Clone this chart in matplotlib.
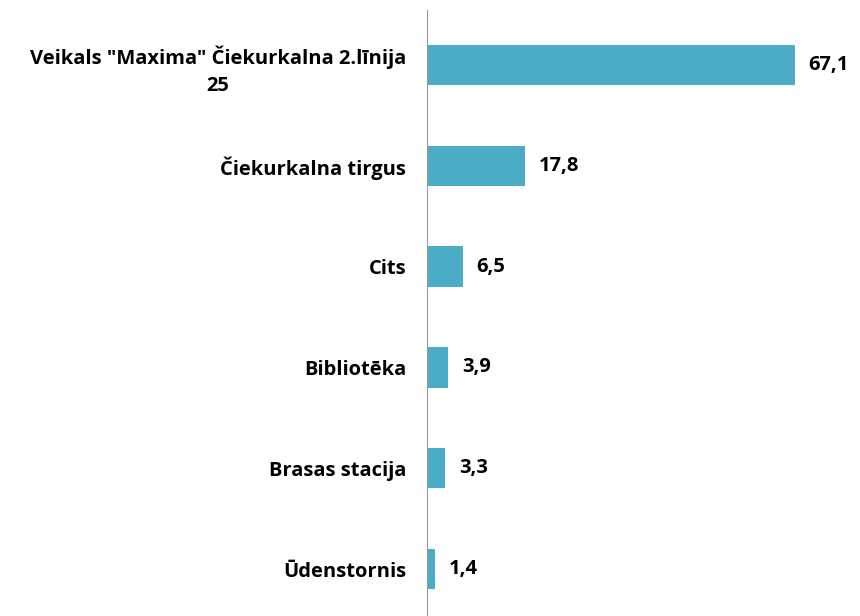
import matplotlib
matplotlib.use('Agg')
import matplotlib.pyplot as plt

# Data
categories = ['Veikals "Maxima" Čiekurkalna 2.līnija\n25', 'Čiekurkalna tirgus', 'Cits',
              'Bibliotēka', 'Brasas stacija', 'Ūdenstornis']
values = [67.1, 17.8, 6.5, 3.9, 3.3, 1.4]
value_labels = ['67,1', '17,8', '6,5', '3,9', '3,3', '1,4']

plt.rcParams['font.family'] = ['Open Sans', 'DejaVu Sans']

fig = plt.figure(figsize=(8.6, 6.16), dpi=100)
ax = fig.add_axes([427 / 860, 0, 1 - 427 / 860, 1 - 10 / 616])

pos = list(range(len(categories)))
ax.barh(pos, values, height=0.4, color='#4BACC6')

# value labels
for p, v, lab in zip(pos, values, value_labels):
    ax.text(v + 2.5, p, lab, va='center', ha='left', fontsize=14.5, fontweight='bold')

ax.set_xlim(0, 79)
ax.set_ylim(5.466, -0.546)
ax.set_yticks(pos)
ax.set_yticklabels(categories, fontsize=14.5, fontweight='bold')
for t in ax.get_yticklabels():
    t.set_multialignment('center')
    t.set_linespacing(1.45)
ax.tick_params(axis='y', length=0, pad=15)
ax.set_xticks([])

for s in ['top', 'right', 'bottom']:
    ax.spines[s].set_visible(False)
ax.spines['left'].set_color('#9a9a9a')

fig.savefig('out.png', dpi=100)
